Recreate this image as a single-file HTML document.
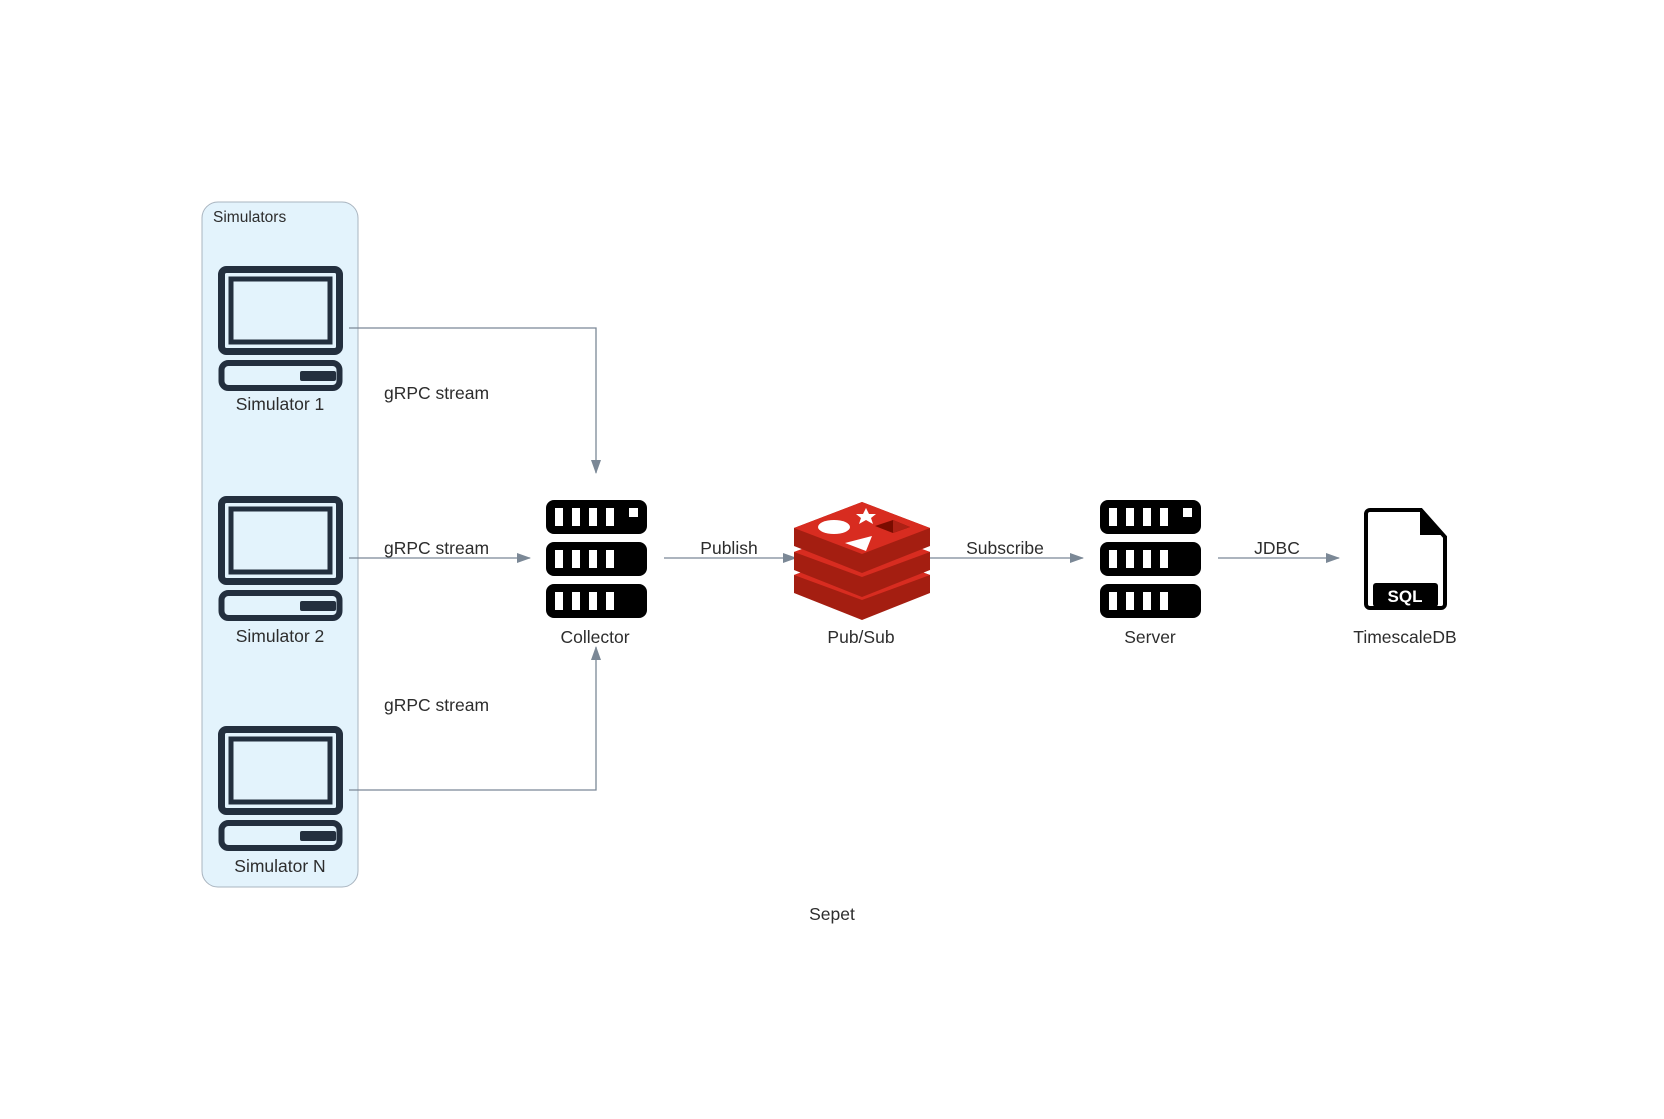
<!DOCTYPE html>
<html><head><meta charset="utf-8"><style>
html,body{margin:0;padding:0;background:#fff;}
svg{display:block}
text{font-family:"Liberation Sans",sans-serif;fill:#2d2d2d;font-size:17px}
</style></head><body>
<svg width="1664" height="1119" viewBox="0 0 1664 1119" xmlns="http://www.w3.org/2000/svg">
<defs>
<marker id="a" markerWidth="14" markerHeight="10" refX="13" refY="5" orient="auto" markerUnits="userSpaceOnUse">
<path d="M0,0 L14,5 L0,10 z" fill="#7b8896"/></marker>
<g id="mon">
<rect x="3.5" y="3.5" width="118" height="82" rx="5" fill="none" stroke="#232f3e" stroke-width="7"/>
<rect x="13" y="13" width="99" height="63" fill="none" stroke="#232f3e" stroke-width="5"/>
<rect x="3.5" y="97" width="118" height="25" rx="7" fill="none" stroke="#232f3e" stroke-width="6"/>
<rect x="82" y="105" width="36" height="10" rx="2" fill="#232f3e"/>
</g>
<g id="srv">
<rect x="0" y="0" width="101" height="34" rx="8" fill="#000"/>
<rect x="0" y="42" width="101" height="34" rx="8" fill="#000"/>
<rect x="0" y="84" width="101" height="34" rx="8" fill="#000"/>
<g fill="#fff">
<rect x="9" y="8" width="8" height="18"/><rect x="26" y="8" width="8" height="18"/><rect x="43" y="8" width="8" height="18"/><rect x="60" y="8" width="8" height="18"/><rect x="83" y="8" width="9" height="9"/>
<rect x="9" y="50" width="8" height="18"/><rect x="26" y="50" width="8" height="18"/><rect x="43" y="50" width="8" height="18"/><rect x="60" y="50" width="8" height="18"/>
<rect x="9" y="92" width="8" height="18"/><rect x="26" y="92" width="8" height="18"/><rect x="43" y="92" width="8" height="18"/><rect x="60" y="92" width="8" height="18"/>
</g></g>
</defs>
<rect x="202" y="202" width="156" height="685" rx="16" fill="#e3f3fc" stroke="#a9b4bf" stroke-width="1"/>
<text x="213" y="222" style="font-size:15.5px">Simulators</text>
<use href="#mon" x="218" y="266"/>
<use href="#mon" x="218" y="496"/>
<use href="#mon" x="218" y="726"/>
<text x="280" y="410" text-anchor="middle" style="font-size:17.5px">Simulator 1</text>
<text x="280" y="642" text-anchor="middle" style="font-size:17.5px">Simulator 2</text>
<text x="280" y="872" text-anchor="middle" style="font-size:17.5px">Simulator N</text>
<g stroke="#7b8896" stroke-width="1.3" fill="none">
<path d="M349,328 H596 V473" marker-end="url(#a)"/>
<path d="M349,558 H530" marker-end="url(#a)"/>
<path d="M349,790 H596 V647" marker-end="url(#a)"/>
<path d="M664,558 H796" marker-end="url(#a)"/>
<path d="M930,558 H1083" marker-end="url(#a)"/>
<path d="M1218,558 H1339" marker-end="url(#a)"/>
</g>
<g style="font-size:17.5px">
<text x="384" y="399" style="font-size:17.5px">gRPC stream</text>
<text x="384" y="554" style="font-size:17.5px">gRPC stream</text>
<text x="384" y="711" style="font-size:17.5px">gRPC stream</text>
<text x="729" y="554" text-anchor="middle" style="font-size:17.5px">Publish</text>
<text x="1005" y="554" text-anchor="middle" style="font-size:17.5px">Subscribe</text>
<text x="1277" y="554" text-anchor="middle" style="font-size:17.5px">JDBC</text>
</g>
<use href="#srv" x="546" y="500"/>
<use href="#srv" x="1100" y="500"/>
<text x="595" y="643" text-anchor="middle" style="font-size:17.5px">Collector</text>
<text x="1150" y="643" text-anchor="middle" style="font-size:17.5px">Server</text>
<text x="861" y="643" text-anchor="middle" style="font-size:17.5px">Pub/Sub</text>
<text x="1405" y="643" text-anchor="middle" style="font-size:17.5px">TimescaleDB</text>
<text x="832" y="920" text-anchor="middle" style="font-size:17.5px">Sepet</text>
<g>
<path d="M794,575 L862,550 L930,575 L930,593 L862,620 L794,593 z" fill="#a41e11"/>
<path d="M794,575 L862,550 L930,575 L862,600 z" fill="#d82c20"/>
<path d="M794,552 L862,527 L930,552 L930,570 L862,597 L794,570 z" fill="#a41e11"/>
<path d="M794,552 L862,527 L930,552 L862,577 z" fill="#d82c20"/>
<path d="M794,528 L862,502 L930,528 L930,546 L862,573 L794,546 z" fill="#a41e11"/>
<path d="M794,528 L862,502 L930,528 L862,554 z" fill="#d82c20"/>
<ellipse cx="834" cy="527" rx="16" ry="7" fill="#fff"/>
<path d="M845,543 L872,536 L866,551 z" fill="#fff"/>
<path d="M866,508 L869,514 L876,514 L871,518 L873,524 L866,520 L859,524 L861,518 L856,514 L863,514 z" fill="#fff"/>
<path d="M875,526 L893,520 L910,527 L893,533 z" fill="#7a0c00"/>
<path d="M893,520 L910,527 L893,533 z" fill="#ad2115"/>
</g>
<g>
<path d="M1370,510 H1421 L1445,537 V604 a4,4 0 0 1 -4,4 H1370 a4,4 0 0 1 -4,-4 V514 a4,4 0 0 1 4,-4 z" fill="#fff" stroke="#000" stroke-width="4"/>
<path d="M1420,510 V535 H1445 z" fill="#000"/>
<rect x="1373" y="583" width="65" height="24" rx="3" fill="#000"/>
<text x="1405" y="602" text-anchor="middle" style="fill:#fff;font-weight:bold;font-size:17px">SQL</text>
</g>
</svg>
</body></html>
